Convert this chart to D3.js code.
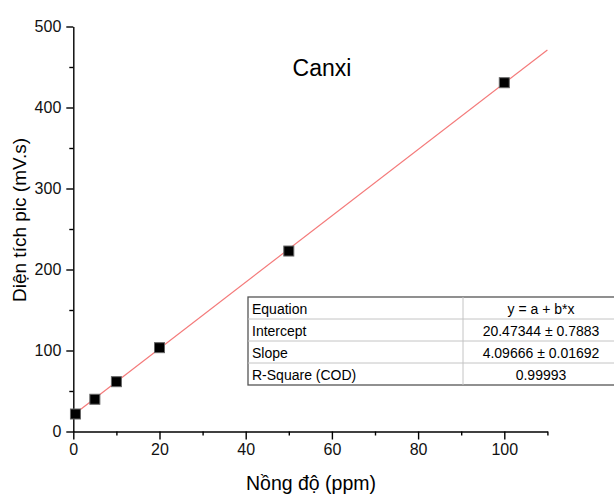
<!DOCTYPE html>
<html lang="vi">
<head>
<meta charset="utf-8">
<title>Canxi</title>
<script src="https://d3js.org/d3.v7.min.js"></script>
<style>
  html, body { margin: 0; padding: 0; background: #fff; }
  svg { display: block; font-family: Arial, "Liberation Sans", sans-serif; }
  .axis path, .axis line { stroke: #000; stroke-width: 1.4; }
  .axis text { font-size: 16px; fill: #111; }
</style>
</head>
<body>
<script>
// du lieu chuan Canxi
var nongDo = [0.5, 5, 10, 20, 50, 100];
var dienTich = [21.6, 39.8, 61.5, 103.5, 222.8, 430.6];
// duong hoi quy: y = a + b*x
var fitX = [0, 110];
var intercept = 20.47344;
var slope = 4.09666;
// bang ket qua
var tableLabels = ["Equation", "Intercept", "Slope", "R-Square (COD)"];
var tableValues = ["y = a + b*x", "20.47344 \u00b1 0.7883", "4.09666 \u00b1 0.01692", "0.99993"];
// ticks
var xTicks = [0, 20, 40, 60, 80, 100];
var xMinor = [10, 30, 50, 70, 90, 110];
var yTicks = [0, 100, 200, 300, 400, 500];
var yMinor = [50, 150, 250, 350, 450];

var W = 614, H = 496;
var svg = d3.select("body").append("svg").attr("width", W).attr("height", H);

var x = d3.scaleLinear().domain([0, 110]).range([73.3, 547.4]);
var y = d3.scaleLinear().domain([0, 500]).range([431.5, 26.5]);

// truc X
svg.append("g").attr("class", "axis")
  .attr("transform", "translate(0," + y(0) + ")")
  .call(d3.axisBottom(x).tickValues(xMinor).tickSize(4).tickFormat("").tickSizeOuter(0));
var gx = svg.append("g").attr("class", "axis")
  .attr("transform", "translate(0," + y(0) + ")")
  .call(d3.axisBottom(x).tickValues(xTicks).tickSize(8).tickSizeOuter(0).tickPadding(4));
gx.select(".domain").remove();

// truc Y
svg.append("g").attr("class", "axis")
  .attr("transform", "translate(" + x(0) + ",0)")
  .call(d3.axisLeft(y).tickValues(yMinor).tickSize(4).tickFormat("").tickSizeOuter(0));
var gy = svg.append("g").attr("class", "axis")
  .attr("transform", "translate(" + x(0) + ",0)")
  .call(d3.axisLeft(y).tickValues(yTicks).tickSize(7).tickSizeOuter(0).tickPadding(5));
gy.select(".domain").remove();

// tieu de truc
svg.append("text")
  .attr("x", 311).attr("y", 490)
  .attr("text-anchor", "middle")
  .style("font-size", "19.5px")
  .text("Nồng độ (ppm)");
svg.append("text")
  .attr("transform", "translate(26,220) rotate(-90)")
  .attr("text-anchor", "middle")
  .style("font-size", "19px")
  .text("Diện tích pic (mV.s)");

// tieu de
svg.append("text")
  .attr("x", 322).attr("y", 76)
  .attr("text-anchor", "middle")
  .style("font-size", "23px")
  .text("Canxi");

// duong fit
svg.append("path")
  .datum(fitX)
  .attr("fill", "none")
  .attr("stroke", "#f47a7a")
  .attr("stroke-width", 1.2)
  .attr("d", d3.line().x(function(d){ return x(d); }).y(function(d){ return y(intercept + slope * d); }));

// diem du lieu
svg.append("g").selectAll("rect")
  .data(d3.range(nongDo.length))
  .enter().append("rect")
  .attr("x", function(i){ return x(nongDo[i]) - 5; })
  .attr("y", function(i){ return y(dienTich[i]) - 5; })
  .attr("width", 10).attr("height", 10)
  .attr("fill", "#000")
  .attr("stroke", "#666")
  .attr("stroke-width", 1);

// bang
var tx0 = 248, tx1 = 463, tx2 = 640, ty0 = 297, rowH = 22;
var tb = svg.append("g");
tb.append("rect")
  .attr("x", tx0).attr("y", ty0)
  .attr("width", tx2 - tx0).attr("height", rowH * tableLabels.length)
  .attr("fill", "#fff").attr("stroke", "#555").attr("stroke-width", 1.3);
tableLabels.forEach(function(lab, i){
  if (i > 0) {
    tb.append("line")
      .attr("x1", tx0).attr("x2", tx2)
      .attr("y1", ty0 + i * rowH).attr("y2", ty0 + i * rowH)
      .attr("stroke", "#c4c4c4");
  }
  tb.append("text")
    .attr("x", tx0 + 4).attr("y", ty0 + i * rowH + 17)
    .style("font-size", "14px")
    .text(lab);
  tb.append("text")
    .attr("x", 541).attr("y", ty0 + i * rowH + 17)
    .attr("text-anchor", "middle")
    .style("font-size", "14px")
    .text(tableValues[i]);
});
tb.append("line")
  .attr("x1", tx1).attr("x2", tx1)
  .attr("y1", ty0).attr("y2", ty0 + rowH * tableLabels.length)
  .attr("stroke", "#c4c4c4");
</script>
</body>
</html>
